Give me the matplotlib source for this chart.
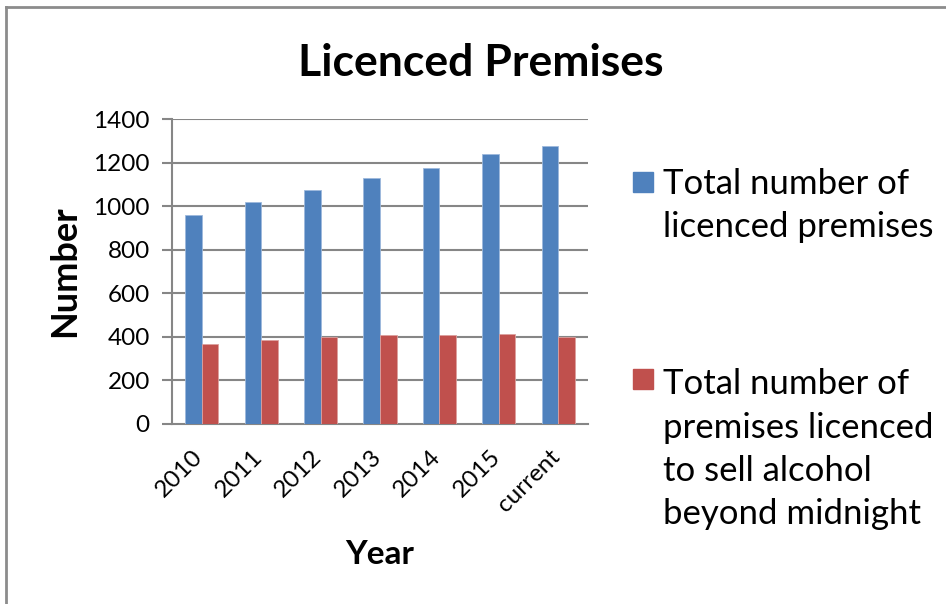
import numpy as np
import matplotlib
matplotlib.use("Agg")
import matplotlib.pyplot as plt
from matplotlib.patches import Rectangle
from matplotlib.lines import Line2D

# ============================================================
# DATA
# ============================================================

YEARS = ["2010", "2011", "2012", "2013", "2014", "2015", "current"]

TOTAL_PREMISES = [958, 1020, 1074, 1129, 1176, 1239, 1276]
LATE_NIGHT_PREMISES = [367, 385, 398, 407, 407, 412, 400]

SERIES_NAMES = [
    "Total number of\nlicenced premises",
    "Total number of\npremises licenced\nto sell alcohol\nbeyond midnight",
]

Y_TICKS = [0, 200, 400, 600, 800, 1000, 1200, 1400]

# ============================================================
# STYLE
# ============================================================

BLUE = "#4F81BD"
RED = "#C0504D"
GRID = "#868686"
FONT = "Lato"

W_PX, H_PX = 946, 604
LEGEND_LINE_PX = 45

plt.rcParams["font.family"] = [FONT, "DejaVu Sans"]


def fx(px):
    return px / W_PX


def fy(px):
    return 1 - px / H_PX


# ============================================================
# PLOT
# ============================================================

fig = plt.figure(figsize=(W_PX / 100, H_PX / 100), dpi=100)
ax = fig.add_axes([fx(172), fy(424), 416 / W_PX, 305 / H_PX])

x = np.arange(len(YEARS))
bar_w = 0.28

ax.bar(x - bar_w / 2, TOTAL_PREMISES, width=bar_w, color=BLUE,
       edgecolor="#9DB9DC", linewidth=0.6, zorder=3)
ax.bar(x + bar_w / 2, LATE_NIGHT_PREMISES, width=bar_w, color=RED,
       edgecolor="#DCA09E", linewidth=0.6, zorder=3)

ax.set_xlim(-0.5, len(YEARS) - 0.5)
ax.set_ylim(0, 1400)
ax.set_yticks(Y_TICKS)
ax.set_yticklabels([str(v) for v in Y_TICKS], fontsize=17.5)

# label anchors sit slightly right of the group centre so the slanted
# text ends over the bar pair
ax.set_xticks(x + 0.09)
ax.set_xticklabels(YEARS, rotation=45, ha="right", va="top", fontsize=17.5)

ax.tick_params(axis="y", length=7, width=1.5, color=GRID, pad=9)
ax.tick_params(axis="x", length=0, pad=16)

for v in Y_TICKS[1:]:
    ax.axhline(v, color=GRID, linewidth=1.5, zorder=1)

for side in ["top", "right"]:
    ax.spines[side].set_visible(False)
for side in ["left", "bottom"]:
    ax.spines[side].set_color(GRID)
    ax.spines[side].set_linewidth(1.5)

# titles
fig.text(fx(481), fy(76), "Licenced Premises", fontsize=32,
         fontweight="bold", ha="center", va="baseline")
fig.text(fx(65), fy(271), "Number", fontsize=26, fontweight="bold",
         rotation=90, ha="center", va="center")
fig.text(fx(380), fy(564), "Year", fontsize=24, fontweight="bold",
         ha="center", va="baseline")

# legend, drawn by hand so each square sits beside the first text line
legend_rows = [(192, BLUE, SERIES_NAMES[0]), (389, RED, SERIES_NAMES[1])]
for base_px, color, label in legend_rows:
    fig.patches.append(Rectangle((fx(633), fy(base_px)), 20 / W_PX, 20 / H_PX,
                                 color=color, transform=fig.transFigure,
                                 figure=fig))
    # multi-line text aligns on the baseline of its last line
    n_lines = label.count("\n")
    fig.text(fx(663), fy(base_px + n_lines * LEGEND_LINE_PX), label,
             fontsize=25, ha="left", va="baseline", linespacing=1.43)

# outer frame of the chart area
fig.add_artist(Line2D([fx(6), 1], [fy(7), fy(7)],
                      transform=fig.transFigure, color="#8C8C8C", linewidth=2))
fig.add_artist(Line2D([fx(6), fx(6)], [0, fy(7)],
                      transform=fig.transFigure, color="#8C8C8C", linewidth=2))

fig.savefig("out.png", dpi=100)
